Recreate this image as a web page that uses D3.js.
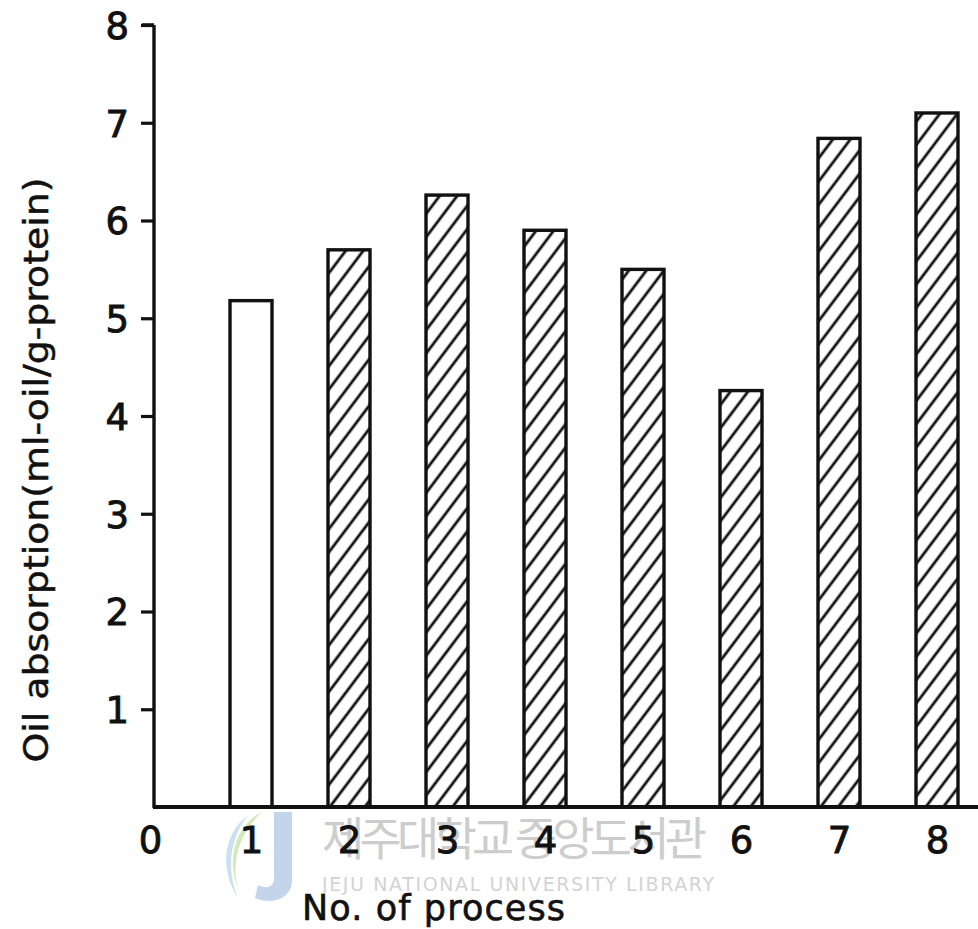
<!DOCTYPE html>
<html>
<head>
<meta charset="utf-8">
<script src="https://cdn.jsdelivr.net/npm/d3@7"></script>
<style>
  html, body { margin: 0; padding: 0; background: #fff; }
  svg { display: block; }
</style>
</head>
<body>
<svg id="chart" width="978" height="929"></svg>
<script>
// Oil absorption for each process
const processes = [1, 2, 3, 4, 5, 6, 7, 8];
const absorption = [5.18, 5.70, 6.26, 5.90, 5.50, 4.26, 6.84, 7.10];
const hatched = [false, true, true, true, true, true, true, true];
const yTicks = [1, 2, 3, 4, 5, 6, 7, 8];
const xTicks = [0, 1, 2, 3, 4, 5, 6, 7, 8];

const svg = d3.select("#chart");
const font = "'DejaVu Sans', 'Noto Sans', sans-serif";
const ink = "#111";

const x = d3.scaleLinear().domain([0, 8]).range([153, 937]);
const y = d3.scaleLinear().domain([0, 8]).range([807, 25]);
const barW = 42;

// diagonal hatch fill
const defs = svg.append("defs");
defs.append("pattern")
  .attr("id", "hatch")
  .attr("patternUnits", "userSpaceOnUse")
  .attr("width", 14).attr("height", 14)
  .attr("patternTransform", "rotate(37)")
  .append("line")
  .attr("x1", 7).attr("y1", -1).attr("x2", 7).attr("y2", 15)
  .attr("stroke", ink).attr("stroke-width", 2.8);

// library watermark
const wm = svg.append("g").attr("class", "watermark");
wm.append("path")
  .attr("d", "M262,812 C235,825 225,860 240,895 C230,870 236,835 262,812 Z")
  .attr("fill", "#b8d98a").attr("opacity", 0.6);
wm.append("path")
  .attr("d", "M248,815 C222,835 220,870 238,898 C226,868 230,838 248,815 Z")
  .attr("fill", "#a9cde6").attr("opacity", 0.6);
wm.append("path")
  .attr("d", "M274,812 L292,812 L292,880 C292,900 270,905 255,898 L258,885 C268,890 274,886 274,878 Z")
  .attr("fill", "#a9c3e3").attr("opacity", 0.7);
wm.append("text")
  .attr("x", 322).attr("y", 855)
  .attr("font-family", "'Noto Sans CJK KR', sans-serif")
  .attr("font-size", 46)
  .attr("textLength", 385)
  .attr("fill", "#cdcdcd")
  .text("제주대학교 중앙도서관");
wm.append("text")
  .attr("x", 322).attr("y", 891)
  .attr("font-family", font)
  .attr("font-size", 19)
  .attr("textLength", 392)
  .attr("fill", "#d3d3d3")
  .text("JEJU NATIONAL UNIVERSITY LIBRARY");

// bars
svg.append("g").selectAll("rect")
  .data(processes)
  .join("rect")
  .attr("x", (d) => x(d) - barW / 2)
  .attr("y", (d, i) => y(absorption[i]))
  .attr("width", barW)
  .attr("height", (d, i) => y(0) - y(absorption[i]))
  .attr("fill", (d, i) => hatched[i] ? "url(#hatch)" : "#fff")
  .attr("stroke", ink)
  .attr("stroke-width", 3.4);

// y axis
const yAxis = svg.append("g")
  .attr("transform", `translate(${x(0) + 1},0)`)
  .call(d3.axisLeft(y).tickValues(yTicks).tickSize(13).tickPadding(12).tickFormat(d3.format("d")));
yAxis.select(".domain")
  .attr("d", `M0,${y(8)}H-12M0,${y(8)}V${y(0) + 1}`)
  .attr("stroke", ink).attr("stroke-width", 3.4);
yAxis.selectAll(".tick line").attr("stroke", ink).attr("stroke-width", 3.2);
yAxis.selectAll(".tick text")
  .attr("font-family", font).attr("font-size", 37).attr("fill", ink)
  .attr("stroke", ink).attr("stroke-width", 0.9)
  .attr("dy", "0.36em");

// x axis
const xAxis = svg.append("g")
  .attr("transform", `translate(0,${y(0)})`)
  .call(d3.axisBottom(x).tickValues(xTicks).tickSize(0).tickPadding(20).tickFormat(d3.format("d")));
xAxis.select(".domain")
  .attr("d", `M${x(0)},0H978`)
  .attr("stroke", ink).attr("stroke-width", 3.8);
xAxis.selectAll(".tick text")
  .attr("font-family", font).attr("font-size", 37).attr("fill", ink)
  .attr("stroke", ink).attr("stroke-width", 0.9)
  .attr("dx", (d) => d === 0 ? -3 : 0);

// axis titles
svg.append("text")
  .attr("x", 302).attr("y", 920)
  .attr("font-family", font).attr("font-size", 35).attr("fill", ink)
  .attr("stroke", ink).attr("stroke-width", 0.6)
  .attr("textLength", 263)
  .text("No. of  process");

svg.append("text")
  .attr("transform", "translate(48,470) rotate(-90)")
  .attr("text-anchor", "middle")
  .attr("font-family", font).attr("font-size", 33).attr("fill", ink)
  .attr("stroke", ink).attr("stroke-width", 0.5)
  .attr("textLength", 585)
  .attr("lengthAdjust", "spacingAndGlyphs")
  .text("Oil absorption(ml-oil/g-protein)");
</script>
</body>
</html>
